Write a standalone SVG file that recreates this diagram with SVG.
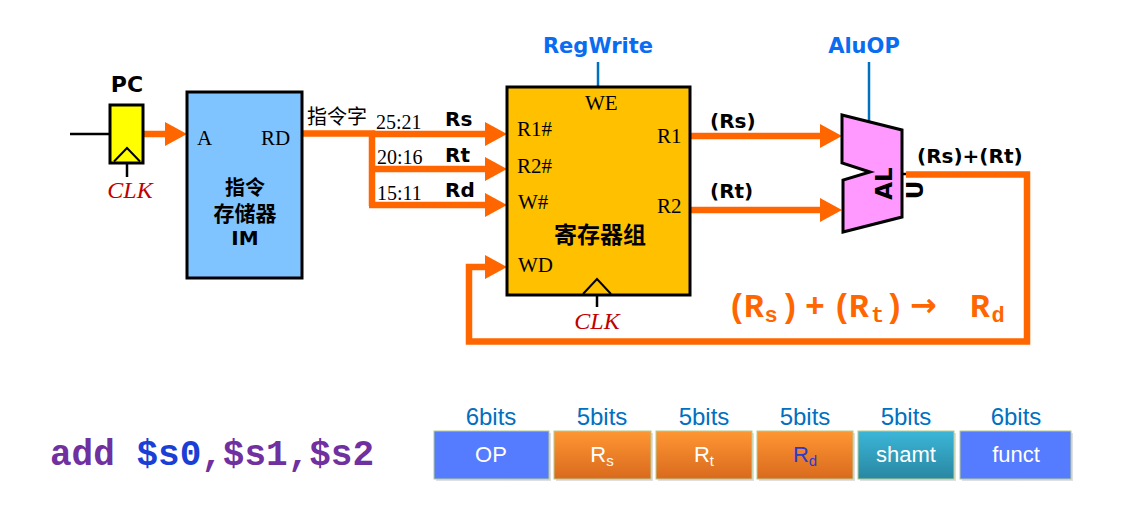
<svg xmlns="http://www.w3.org/2000/svg" width="1125" height="511" viewBox="0 0 1125 511">
<defs>
<style>
.ser{font-family:"Liberation Serif","Times New Roman",serif;font-size:21px;fill:#000}
.num{font-family:"Liberation Serif","Times New Roman",serif;font-size:20px;fill:#000}
.clk{font-family:"Liberation Serif","Times New Roman",serif;font-style:italic;font-size:24px;fill:#C00000;text-anchor:middle}
.b{font-family:"DejaVu Sans","Noto Sans CJK SC",sans-serif;font-weight:bold;fill:#000}
.cjk{font-family:"Noto Sans CJK SC",sans-serif;font-size:20px;fill:#000}
.ctl{font-family:"DejaVu Sans",sans-serif;font-weight:bold;font-size:21px;fill:#0A6CF0;text-anchor:middle}
.bus{fill:none;stroke:#FF6600;stroke-width:6.5;stroke-linejoin:miter}
.arr{marker-end:url(#ah)}
.blk{fill:none;stroke:#000;stroke-width:2.5}
.ctlline{fill:none;stroke:#0070C0;stroke-width:2.5}
.box{stroke:#000;stroke-width:3}
.bits{font-family:"Liberation Sans",Arial,sans-serif;font-size:24px;fill:#0070C0;text-anchor:middle}
.fld{font-family:"Liberation Sans",Arial,sans-serif;font-size:22px;fill:#fff;text-anchor:middle}
.fb{stroke:#B5CC8E;stroke-width:1}
.mono{font-family:"Liberation Mono","Courier New",monospace;font-weight:bold}
</style>
<marker id="ah" viewBox="0 0 22 24" refX="0" refY="12" markerWidth="22" markerHeight="24" markerUnits="userSpaceOnUse" orient="auto">
<path d="M0,0 L22,12 L0,24 Z" fill="#FF6600"/>
</marker>
<linearGradient id="gor" x1="0" y1="0" x2="0" y2="1">
<stop offset="0" stop-color="#FF9633"/><stop offset="1" stop-color="#D96A1E"/>
</linearGradient>
<linearGradient id="gte" x1="0" y1="0" x2="0" y2="1">
<stop offset="0" stop-color="#3BB6D8"/><stop offset="1" stop-color="#2987A2"/>
</linearGradient>
</defs>

<g id="connectors">
<path class="blk" d="M70,134 H110"/>
<path class="blk" d="M127,163 V177"/>
<path class="blk" d="M597,295 V307"/>
<path class="ctlline" d="M598,62 V87"/>
<path class="ctlline" d="M869,62 V122"/>
<path class="bus arr" d="M143,134 H165"/>
<path class="bus" d="M302,133.5 H372 V206"/>
<path class="bus arr" d="M372,134 H485"/>
<path class="bus arr" d="M372,169 H485"/>
<path class="bus arr" d="M369,205 H485"/>
<path class="bus arr" d="M690,136 H820"/>
<path class="bus arr" d="M690,210 H820"/>
<path class="blk" d="M902,174 H908"/>
<path class="bus arr" d="M906,174.5 H1027 V341.5 H469 V267 H485"/>
</g>

<g id="pc">
<text class="b" x="127" y="92" font-size="22" text-anchor="middle">PC</text>
<rect class="box" x="110" y="105" width="33" height="58" fill="#FFFF00"/>
<polyline points="114,161.5 127,148 140,161.5" fill="none" stroke="#000" stroke-width="2"/>
<text class="clk" x="130" y="198">CLK</text>
</g>

<g id="im">
<rect class="box" x="187" y="92" width="115" height="186" fill="#80C4FF"/>
<text class="ser" x="197" y="145">A</text>
<text class="ser" x="261" y="145">RD</text>
<text class="b" x="245" y="195" font-size="20" text-anchor="middle">指令</text>
<text class="b" x="245" y="221" font-size="21" text-anchor="middle">存储器</text>
<text class="b" x="245" y="245" font-size="20" text-anchor="middle">IM</text>
</g>

<g id="bus-labels">
<text class="cjk" x="307" y="124" font-size="20">指令字</text>
<text class="num" x="376" y="129">25:21</text>
<text class="num" x="377" y="164">20:16</text>
<text class="num" x="377" y="200">15:11</text>
<text class="b" x="445" y="126" font-size="20">Rs</text>
<text class="b" x="445" y="162" font-size="20">Rt</text>
<text class="b" x="445" y="197" font-size="20">Rd</text>
</g>

<g id="regfile">
<text class="ctl" x="598" y="53">RegWrite</text>
<rect class="box" x="507" y="87" width="183" height="208" fill="#FFC000"/>
<text class="ser" x="585" y="110" font-size="22">WE</text>
<text class="ser" x="517" y="136" font-size="22">R1#</text>
<text class="ser" x="517" y="173" font-size="22">R2#</text>
<text class="ser" x="518" y="209" font-size="22">W#</text>
<text class="ser" x="518" y="272" font-size="22">WD</text>
<text class="ser" x="657" y="143" font-size="22">R1</text>
<text class="ser" x="657" y="213" font-size="22">R2</text>
<text class="b" x="600" y="243" font-size="23" text-anchor="middle">寄存器组</text>
<polyline points="583,294 597,279 611,294" fill="none" stroke="#000" stroke-width="2"/>
<text class="clk" x="597" y="329">CLK</text>
</g>

<g id="alu">
<text class="ctl" x="864" y="53">AluOP</text>
<polygon class="box" points="842,115 902,130 902,217 843,232 843,180 870,172 842,163" fill="#FF99FF" stroke-linejoin="miter"/>
<text class="b" font-size="23" text-anchor="middle" transform="translate(892,183.5) rotate(-90)">AL</text>
<text class="b" font-size="23" text-anchor="middle" transform="translate(923,190) rotate(-90)">U</text>
</g>

<g id="data-labels">
<text class="b" x="710" y="128" font-size="20">(Rs)</text>
<text class="b" x="710" y="198" font-size="20">(Rt)</text>
<text class="b" x="917" y="163" font-size="20">(Rs)+(Rt)</text>
<text class="mono" font-size="33" fill="#FF6600"><tspan x="727.1" y="317" letter-spacing="-2.8">(R</tspan><tspan x="764.4" y="322" font-size="22">s</tspan><tspan x="780.1" y="317">)</tspan><tspan x="805.1" y="317">+</tspan><tspan x="832.1" y="317" letter-spacing="-2.8">(R</tspan><tspan x="870.9" y="322" font-size="22">t</tspan><tspan x="884.5" y="317">)</tspan><tspan x="910" y="316" font-family="DejaVu Sans,sans-serif" font-size="32">→</tspan><tspan x="970.1" y="317">R</tspan><tspan x="991.4" y="322" font-size="22">d</tspan></text>
</g>

<g id="instruction">
<text class="mono" x="50" y="465" font-size="36" fill="#7030A0">add <tspan fill="#1A3FD6">$s0</tspan>,$s1,$s2</text>
</g>

<g id="format">
<g fill="#000" opacity="0.12">
<rect x="436" y="433" width="115" height="48"/>
<rect x="556" y="433" width="97" height="48"/>
<rect x="658" y="433" width="96" height="48"/>
<rect x="759" y="433" width="96" height="48"/>
<rect x="860" y="433" width="96" height="48"/>
<rect x="962" y="433" width="111" height="48"/>
</g>
<g id="f-op"><rect class="fb" x="434" y="431" width="115" height="48" fill="#557BFE"/>
<text class="bits" x="491" y="425">6bits</text><text class="fld" x="491" y="462">OP</text></g>
<g id="f-rs"><rect class="fb" x="554" y="431" width="97" height="48" fill="url(#gor)"/>
<text class="bits" x="602" y="425">5bits</text><text class="fld" x="602" y="462">R<tspan font-size="15" dy="4">s</tspan></text></g>
<g id="f-rt"><rect class="fb" x="656" y="431" width="96" height="48" fill="url(#gor)"/>
<text class="bits" x="704" y="425">5bits</text><text class="fld" x="704" y="462">R<tspan font-size="15" dy="4">t</tspan></text></g>
<g id="f-rd"><rect class="fb" x="757" y="431" width="96" height="48" fill="url(#gor)"/>
<text class="bits" x="805" y="425">5bits</text><text class="fld" x="805" y="462" style="fill:#2B3BD0">R<tspan font-size="15" dy="4">d</tspan></text></g>
<g id="f-shamt"><rect class="fb" x="858" y="431" width="96" height="48" fill="url(#gte)"/>
<text class="bits" x="906" y="425">5bits</text><text class="fld" x="906" y="462">shamt</text></g>
<g id="f-funct"><rect class="fb" x="960" y="431" width="111" height="48" fill="#557BFE"/>
<text class="bits" x="1016" y="425">6bits</text><text class="fld" x="1016" y="462">funct</text></g>
</g>
</svg>
